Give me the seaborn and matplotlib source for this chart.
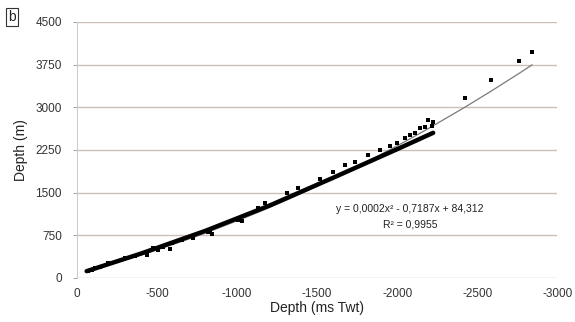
import matplotlib
matplotlib.use("Agg")
import matplotlib.pyplot as plt
import seaborn as sns
import pandas as pd
import numpy as np

# scattered control points (TWT in ms, depth in m)
pts_twt = [-69, -94, -112, -144, -194, -300, -362, -437, -437, -475, -506, -537, -581,
           -594, -656, -725, -819, -831, -844, -1006, -1031, -1131, -1175, -1312, -1381,
           -1519, -1600, -1675, -1738, -1819, -1894, -1956, -2000, -2050, -2081, -2113,
           -2144, -2175, -2194, -2219, -2225, -2425, -2588, -2763, -2844]
pts_depth = [123, 141, 176, 193, 264, 351, 387, 457, 404, 527, 492, 545, 505,
             615, 668, 703, 808, 844, 773, 1019, 1002, 1230, 1318, 1494, 1582,
             1740, 1863, 1986, 2039, 2162, 2250, 2320, 2373, 2460, 2513, 2548,
             2636, 2654, 2777, 2671, 2742, 3163, 3480, 3814, 3972]

# thick black curve (continuous data)
curve_twt = [-60, -400, -800, -1200, -1600, -2000, -2225]
curve_depth = [118, 428, 825, 1268, 1760, 2262, 2550]

# polynomial trendline coefficients as printed on the chart
trend_coef = [0.0002, -0.7187, 84.312]
equation = "y = 0,0002x² - 0,7187x + 84,312"
r2 = "R² = 0,9955"
yticks = [0, 750, 1500, 2250, 3000, 3750, 4500]
xticks = [0, -500, -1000, -1500, -2000, -2500, -3000]

sns.set_theme(style="white")
plt.rcParams["font.family"] = ["Liberation Sans", "DejaVu Sans"]

fig = plt.figure(figsize=(5.75, 3.22), dpi=100)
ax = fig.add_axes([0.134, 0.137, 0.835, 0.795])

pts = pd.DataFrame({"twt": pts_twt, "depth": pts_depth})
curve = pd.DataFrame({"twt": curve_twt, "depth": curve_depth})
trend_x = sorted(pts_twt, reverse=True)
trend = pd.DataFrame({"twt": trend_x, "depth": np.polyval(trend_coef, trend_x)})

for v in yticks:
    ax.axhline(v, color="#cdbfb8", lw=1.0, zorder=0)

sns.lineplot(data=curve, x="twt", y="depth", ax=ax, color="black", lw=3.2,
             sort=False, zorder=3)
sns.scatterplot(data=pts, x="twt", y="depth", ax=ax, color="black", marker="s",
                s=12, linewidth=0, zorder=4)
sns.lineplot(data=trend, x="twt", y="depth", ax=ax, color="#7a7a7a", lw=0.9,
             sort=False, zorder=2)

ax.set_xlim(0, -3000)
ax.set_ylim(0, 4500)
ax.set_xticks(xticks)
ax.set_yticks(yticks)
ax.set_xticklabels([str(t) for t in xticks], fontsize=8.5, color="#333333")
ax.set_yticklabels([str(t) for t in yticks], fontsize=8.5, color="#333333")
ax.tick_params(axis="x", length=0, pad=7)
ax.tick_params(axis="y", length=3, width=0.6, color="#999999", pad=8, direction="out", left=True)

for s in ["top", "right", "bottom"]:
    ax.spines[s].set_visible(False)
ax.spines["left"].set_color("#cccccc")
ax.spines["left"].set_linewidth(0.8)

ax.set_xlabel("Depth (ms Twt)", fontsize=10, color="#222222", labelpad=1)
ax.set_ylabel("Depth (m)", fontsize=10, color="#222222", labelpad=5)

ax.text(-2080, 1215, equation, fontsize=7.5, ha="center", va="center", color="#222222")
ax.text(-2080, 935, r2, fontsize=7.5, ha="center", va="center", color="#222222")

fig.text(0.021, 0.947, "b", fontsize=10, ha="center", va="center", color="#222222",
         bbox=dict(boxstyle="square,pad=0.15", fc="white", ec="#333333", lw=0.8))

fig.savefig("out.png", dpi=100, facecolor="white")
